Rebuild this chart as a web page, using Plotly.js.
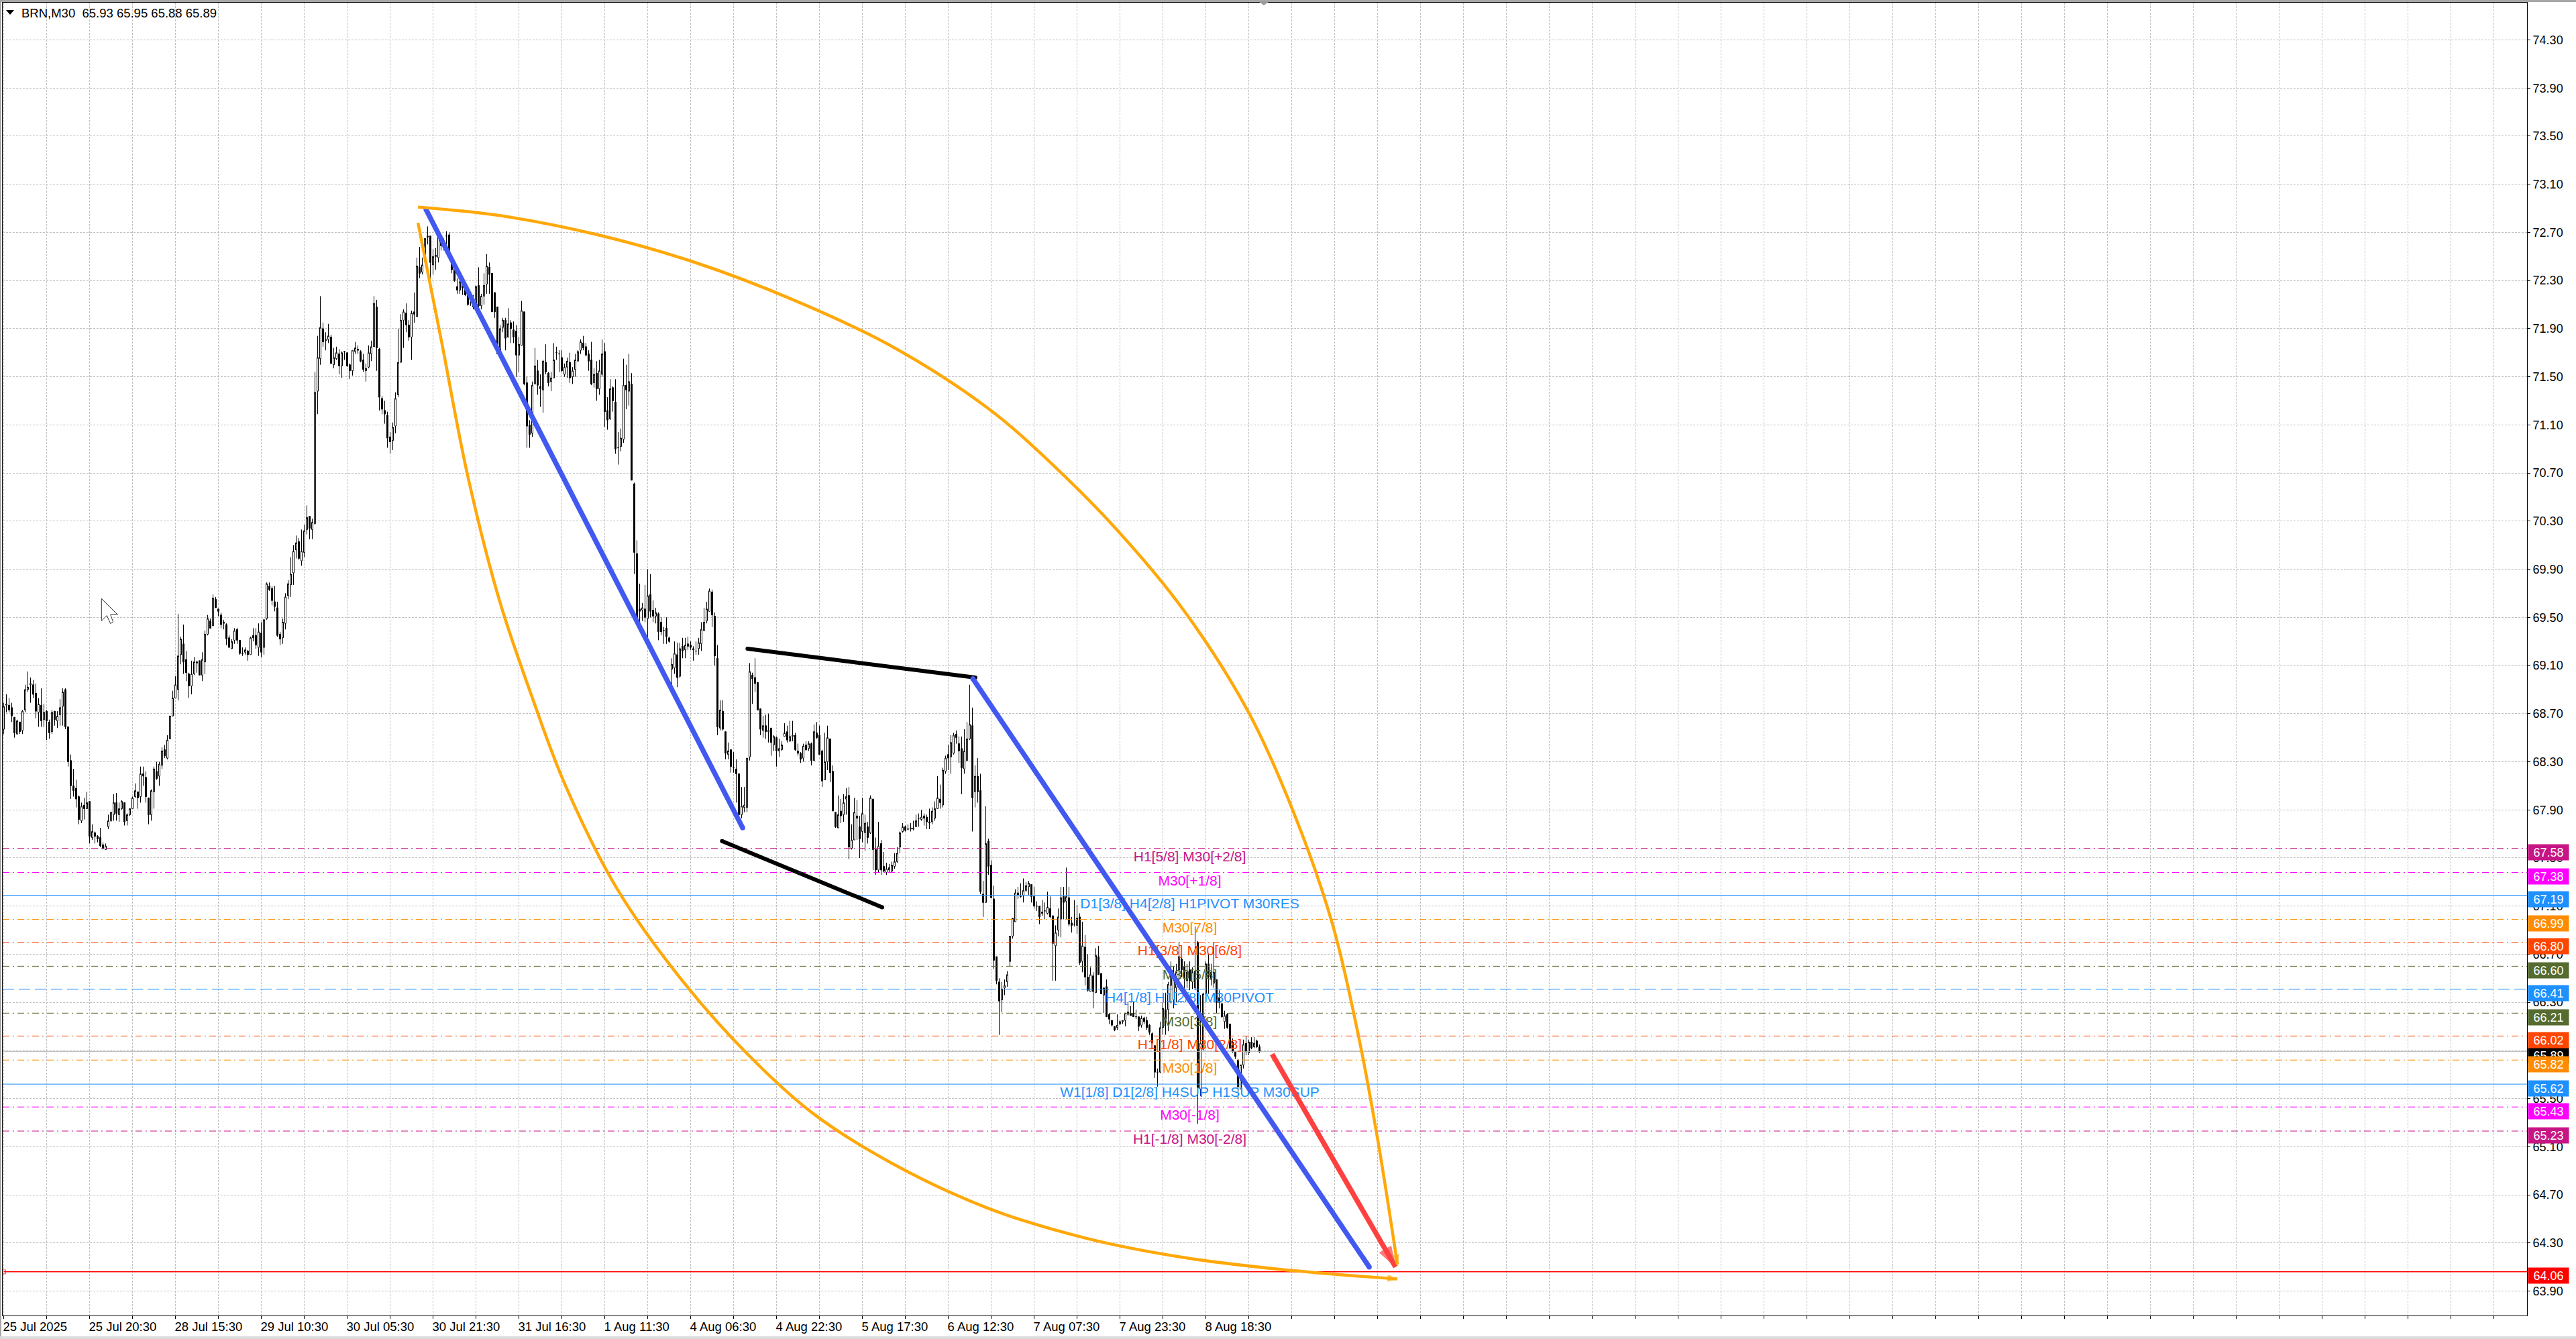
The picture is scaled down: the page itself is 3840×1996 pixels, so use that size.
<!DOCTYPE html>
<html>
<head>
<meta charset="utf-8">
<script src="https://cdn.plot.ly/plotly-3.0.1.min.js"></script>
<style>html,body{margin:0;padding:0;background:#fff}</style>
</head>
<body>
<div id="chart"></div>
<script>
var openPrices = [
68.57,68.77,68.77,68.75,68.67,68.53,68.63,68.56,68.73,68.90,
68.94,68.94,68.87,68.71,68.77,68.65,68.72,68.63,68.55,68.72,
68.64,68.69,68.76,68.90,68.59,68.31,68.10,68.08,68.01,67.81,
67.94,67.91,67.97,67.67,67.71,67.68,67.67,67.61,67.57,67.76,
67.81,67.86,67.96,67.86,67.91,67.96,67.81,67.86,67.91,68.01,
68.05,68.01,68.20,68.17,68.00,67.86,68.05,68.22,68.18,68.27,
68.40,68.33,68.49,68.68,68.83,68.90,69.19,69.28,69.15,69.03,
68.93,69.03,69.12,69.14,69.02,69.13,69.36,69.47,69.43,69.65,
69.57,69.52,69.45,69.44,69.33,69.24,69.31,69.40,69.31,69.20,
69.21,69.22,69.19,69.35,69.35,69.25,69.37,69.25,69.49,69.76,
69.74,69.63,69.58,69.36,69.33,69.45,69.68,69.77,69.87,70.06,
70.13,69.97,70.04,70.23,70.34,70.23,70.28,71.38,71.65,71.90,
71.80,71.81,71.83,71.60,71.65,71.69,71.59,71.71,71.70,71.60,
71.55,71.71,71.73,71.71,71.64,71.55,71.58,71.69,71.75,72.08,
71.73,71.32,71.22,71.18,71.00,70.97,71.09,71.35,71.62,71.97,
72.03,71.93,71.83,72.04,72.00,72.41,72.37,72.46,72.66,72.67,
72.43,72.51,72.49,72.66,72.63,72.67,72.68,72.46,72.40,72.25,
72.22,72.29,72.23,72.19,72.12,72.15,72.09,72.26,72.09,72.17,
72.27,72.41,72.36,72.20,72.08,71.71,71.91,71.97,71.83,71.95,
71.89,71.88,71.68,71.76,72.04,71.45,71.10,71.03,71.44,71.55,
71.42,71.39,71.62,71.53,71.46,71.49,71.70,71.69,71.66,71.52,
71.58,71.62,71.50,71.56,71.63,71.72,71.78,71.75,71.69,71.64,
71.45,71.53,71.40,71.52,71.71,71.22,71.15,71.41,71.29,70.91,
70.92,70.98,71.43,71.38,71.44,70.61,70.03,69.57,69.56,69.57,
69.49,69.69,69.56,69.51,69.53,69.46,69.39,69.41,69.33,69.07,
69.08,69.19,69.01,69.26,69.23,69.28,69.27,69.24,69.22,69.24,
69.28,69.39,69.47,69.55,69.71,69.51,69.16,68.58,68.72,68.55,
68.36,68.40,68.25,68.24,68.20,67.86,67.92,67.92,68.34,69.02,
69.00,68.96,68.74,68.56,68.60,68.55,68.58,68.44,68.50,68.39,
68.40,68.51,68.55,68.47,68.51,68.52,68.39,68.37,68.33,68.44,
68.41,68.45,68.31,68.54,68.52,68.39,68.15,68.30,68.49,68.22,
67.88,67.75,67.89,67.86,67.99,68.02,67.58,67.65,67.85,67.76,
67.72,67.71,67.76,67.71,67.99,67.57,67.40,67.62,67.43,67.38,
67.40,67.39,67.43,67.47,67.59,67.72,67.76,67.74,67.74,67.74,
67.76,67.83,67.82,67.85,67.84,67.80,67.80,67.83,67.91,67.99,
67.94,68.22,68.36,68.34,68.37,68.53,68.45,68.41,68.24,68.31,
68.49,68.60,68.05,68.18,68.06,67.20,67.13,67.64,67.44,67.16,
66.68,66.47,66.32,66.42,66.47,66.64,66.85,66.97,67.21,67.18,
67.19,67.23,67.26,67.28,67.18,67.10,67.10,67.05,67.06,67.04,
67.08,67.02,66.77,66.90,66.99,67.18,67.14,67.17,66.96,66.95,
66.94,67.01,66.64,66.76,66.51,66.39,66.52,66.38,66.68,66.54,
66.36,66.43,66.20,66.15,66.10,66.09,66.12,66.14,66.15,66.20,
66.21,66.21,66.18,66.18,66.11,66.17,66.15,66.11,66.04,65.94,
65.72,65.72,66.09,66.24,66.24,66.44,66.32,66.42,66.57,66.66,
66.60,66.48,66.57,66.47,66.42,66.80,65.58,65.91,66.37,66.62,
66.55,66.46,66.49,66.34,66.29,66.14,66.20,66.12,65.97,65.89,
65.82,65.58,65.78,65.96,65.88,65.97,65.93,65.98,65.93];

var highPrices = [
68.79,68.86,68.83,68.79,68.67,68.65,68.63,68.73,68.94,69.05,
69.00,68.98,68.95,68.83,68.91,68.78,68.73,68.65,68.73,68.72,
68.72,68.82,68.91,68.91,68.59,68.36,68.24,68.15,68.02,67.96,
68.00,68.05,67.97,67.78,67.72,67.69,67.75,67.63,67.62,67.86,
67.88,68.03,68.04,67.96,67.98,67.96,67.87,67.91,68.01,68.12,
68.05,68.26,68.26,68.22,68.00,68.07,68.26,68.30,68.30,68.42,
68.44,68.52,68.68,68.89,69.01,69.53,69.34,69.44,69.22,69.04,
69.14,69.17,69.14,69.14,69.21,69.39,69.52,69.49,69.69,69.67,
69.57,69.54,69.48,69.45,69.35,69.32,69.41,69.41,69.31,69.25,
69.25,69.23,69.34,69.41,69.41,69.45,69.46,69.49,69.79,69.79,
69.76,69.76,69.63,69.38,69.49,69.70,69.81,70.00,70.10,70.18,
70.16,70.23,70.27,70.43,70.34,70.32,71.54,71.84,72.17,71.95,
71.87,71.94,71.85,71.74,71.75,71.73,71.71,71.71,71.70,71.61,
71.72,71.79,71.76,71.72,71.69,71.61,71.76,71.80,72.17,72.14,
71.74,71.34,71.30,71.21,71.04,71.12,71.37,71.90,72.02,72.06,
72.11,71.97,72.05,72.20,72.49,72.58,72.49,72.65,72.75,72.67,
72.56,72.57,72.69,72.67,72.65,72.71,72.70,72.51,72.40,72.32,
72.32,72.32,72.25,72.20,72.16,72.18,72.26,72.41,72.19,72.36,
72.52,72.45,72.36,72.20,72.08,71.93,71.99,71.99,72.07,71.97,
71.96,71.93,71.83,72.13,72.04,71.50,71.14,71.46,71.74,71.64,
71.52,71.64,71.77,71.54,71.54,71.78,71.75,71.72,71.72,71.61,
71.66,71.70,71.58,71.69,71.72,71.81,71.84,71.78,71.72,71.79,
71.57,71.63,71.64,71.81,71.78,71.33,71.48,71.42,71.48,71.04,
71.07,71.65,71.60,71.69,71.53,70.62,70.14,69.78,69.62,69.77,
69.90,69.86,69.64,69.58,69.54,69.50,69.42,69.50,69.34,69.16,
69.30,69.29,69.29,69.33,69.33,69.34,69.30,69.26,69.30,69.33,
69.46,69.58,69.63,69.74,69.73,69.54,69.27,68.81,68.81,68.55,
68.46,68.40,68.38,68.32,68.20,68.09,68.09,68.33,69.12,69.04,
69.16,68.96,68.74,68.68,68.69,68.70,68.58,68.52,68.51,68.49,
68.47,68.62,68.60,68.64,68.64,68.54,68.45,68.38,68.45,68.47,
68.47,68.46,68.61,68.63,68.60,68.40,68.54,68.60,68.49,68.27,
67.88,68.02,67.99,68.03,68.08,68.09,67.78,68.00,67.98,67.85,
68.00,67.86,67.80,68.02,67.99,67.67,67.80,67.65,67.55,67.46,
67.45,67.47,67.54,67.59,67.72,67.79,67.77,67.78,67.79,67.81,
67.86,67.87,67.90,67.87,67.86,67.91,67.92,67.97,68.18,68.11,
68.25,68.35,68.44,68.52,68.54,68.56,68.51,68.51,68.57,68.63,
68.94,68.75,68.27,68.33,68.20,67.31,67.93,67.66,67.48,67.27,
66.68,66.50,66.47,66.49,66.56,66.85,67.00,67.24,67.26,67.29,
67.33,67.30,67.31,67.28,67.26,67.14,67.10,67.15,67.13,67.22,
67.18,67.02,66.94,67.08,67.26,67.26,67.42,67.26,67.01,67.15,
67.11,67.04,66.97,66.86,66.70,66.59,66.55,66.75,66.77,66.54,
66.42,66.49,66.21,66.15,66.10,66.20,66.15,66.15,66.21,66.30,
66.27,66.30,66.24,66.18,66.19,66.18,66.18,66.12,66.05,65.94,
65.75,66.14,66.30,66.38,66.47,66.64,66.60,66.62,66.80,66.70,
66.64,66.62,66.64,66.59,66.93,66.81,66.36,66.38,66.64,66.70,
66.62,66.80,66.49,66.40,66.29,66.23,66.21,66.12,66.00,65.89,
65.83,65.78,65.99,66.02,65.99,66.01,66.01,65.99,65.95];

var lowPrices = [
68.53,68.71,68.71,68.63,68.50,68.53,68.53,68.53,68.71,68.88,
68.79,68.83,68.66,68.59,68.59,68.59,68.48,68.49,68.53,68.60,
68.58,68.60,68.60,68.57,68.26,67.99,68.01,67.92,67.78,67.79,
67.82,67.91,67.62,67.65,67.62,67.63,67.59,67.57,67.57,67.74,
67.80,67.81,67.81,67.80,67.90,67.77,67.77,67.85,67.91,68.00,
67.91,67.96,68.10,67.96,67.78,67.81,67.91,68.15,68.10,68.24,
68.33,68.32,68.49,68.68,68.83,68.81,69.11,69.03,68.97,68.83,
68.86,69.02,69.04,69.02,68.97,69.03,69.35,69.41,69.43,69.58,
69.51,69.41,69.40,69.27,69.25,69.24,69.28,69.28,69.19,69.18,
69.19,69.14,69.19,69.30,69.24,69.18,69.17,69.19,69.48,69.72,
69.60,69.55,69.34,69.27,69.28,69.40,69.65,69.67,69.77,69.99,
69.98,69.93,70.00,70.19,70.15,70.15,70.27,71.19,71.60,71.75,
71.72,71.78,71.61,71.57,71.64,71.52,71.49,71.64,71.58,71.48,
71.51,71.69,71.69,71.62,71.54,71.46,71.57,71.63,71.75,71.55,
71.22,71.19,71.11,70.91,70.86,70.89,71.03,71.33,71.62,71.74,
71.87,71.80,71.64,71.95,72.00,72.32,72.35,72.45,72.60,72.25,
72.35,72.39,72.45,72.55,72.55,72.59,72.53,72.36,72.29,72.19,
72.19,72.18,72.17,72.09,72.09,72.06,72.09,72.06,72.06,72.10,
72.19,72.19,72.04,71.99,71.69,71.70,71.87,71.72,71.83,71.78,
71.78,71.50,71.54,71.76,71.43,70.91,70.91,71.00,71.44,71.35,
71.25,71.20,71.52,71.42,71.38,71.49,71.64,71.54,71.54,71.50,
71.49,71.45,71.44,71.50,71.63,71.69,71.72,71.67,71.55,71.43,
71.41,71.30,71.35,71.50,71.08,71.06,71.14,71.21,70.86,70.77,
70.88,70.95,71.23,71.26,70.64,69.86,69.49,69.46,69.47,69.46,
69.34,69.50,69.46,69.45,69.31,69.35,69.28,69.28,69.29,68.94,
69.03,68.92,69.00,69.16,69.16,69.23,69.23,69.14,69.19,69.19,
69.22,69.39,69.45,69.55,69.42,69.10,68.52,68.56,68.56,68.32,
68.32,68.21,68.21,67.96,67.83,67.83,67.88,67.88,68.31,68.78,
68.88,68.73,68.52,68.50,68.49,68.46,68.35,68.39,68.26,68.34,
68.39,68.51,68.46,68.47,68.47,68.39,68.35,68.29,68.30,68.39,
68.39,68.27,68.31,68.49,68.36,68.09,68.15,68.23,68.13,67.89,
67.75,67.75,67.79,67.80,67.86,67.49,67.57,67.65,67.65,67.50,
67.63,67.56,67.62,67.70,67.40,67.36,67.38,67.36,67.38,67.36,
67.38,67.38,67.41,67.46,67.54,67.71,67.72,67.73,67.72,67.73,
67.76,67.76,67.81,67.77,67.74,67.74,67.78,67.81,67.91,67.91,
67.92,68.20,68.23,68.20,68.36,68.45,68.29,68.03,68.20,68.31,
68.48,67.72,67.92,67.96,67.20,67.01,67.13,67.36,67.17,66.58,
66.45,66.03,66.22,66.36,66.43,66.60,66.83,66.97,67.16,67.17,
67.13,67.22,67.19,67.13,67.08,67.06,66.95,67.02,66.99,67.03,
67.00,66.48,66.48,66.85,66.84,66.99,66.99,66.93,66.88,66.93,
66.87,66.61,66.55,66.44,66.39,66.39,66.25,66.38,66.53,66.37,
66.21,66.18,66.12,66.10,66.06,66.07,66.11,66.12,66.10,66.19,
66.19,66.18,66.16,66.06,66.09,66.12,66.07,66.03,65.93,65.67,
65.60,65.71,66.03,66.03,66.06,66.29,66.25,66.30,66.43,66.51,
66.36,66.42,66.40,66.41,66.40,65.29,65.52,65.90,66.32,66.37,
66.44,66.42,66.21,66.25,66.17,66.08,66.08,65.91,65.88,65.83,
65.50,65.58,65.75,65.86,65.86,65.91,65.92,65.92,65.88];

var closePrices = [
68.76,68.78,68.73,68.68,68.54,68.64,68.55,68.72,68.90,68.92,
68.95,68.86,68.72,68.78,68.64,68.71,68.64,68.54,68.71,68.65,
68.68,68.75,68.88,68.59,68.30,68.10,68.06,67.99,67.82,67.93,
67.91,67.96,67.68,67.72,67.68,67.66,67.60,67.58,67.60,67.81,
67.88,67.96,67.87,67.91,67.97,67.80,67.86,67.91,68.00,68.06,
68.00,68.20,68.18,68.01,67.86,68.06,68.24,68.16,68.28,68.39,
68.35,68.48,68.68,68.83,68.94,69.18,69.32,69.13,69.04,68.93,
69.03,69.13,69.13,69.02,69.15,69.36,69.49,69.41,69.66,69.58,
69.55,69.44,69.46,69.32,69.25,69.30,69.39,69.31,69.20,69.20,
69.23,69.19,69.33,69.33,69.27,69.38,69.21,69.48,69.78,69.73,
69.64,69.59,69.35,69.32,69.46,69.67,69.78,69.86,70.05,70.12,
69.99,70.05,70.22,70.33,70.24,70.29,71.37,71.66,71.91,71.79,
71.81,71.84,71.61,71.66,71.70,71.59,71.70,71.71,71.59,71.55,
71.72,71.74,71.72,71.63,71.56,71.57,71.70,71.75,72.11,71.74,
71.33,71.23,71.19,70.99,70.96,71.08,71.32,71.62,71.97,72.04,
71.93,71.83,72.03,72.02,72.42,72.36,72.43,72.65,72.67,72.45,
72.50,72.50,72.66,72.59,72.57,72.67,72.55,72.39,72.30,72.22,
72.29,72.24,72.18,72.10,72.12,72.08,72.25,72.09,72.17,72.26,
72.42,72.35,72.04,72.04,71.69,71.90,71.97,71.82,71.94,71.90,
71.83,71.68,71.77,72.05,71.44,71.09,71.02,71.43,71.59,71.43,
71.40,71.63,71.54,71.45,71.49,71.64,71.70,71.69,71.55,71.58,
71.63,71.49,71.55,71.64,71.71,71.79,71.74,71.68,71.63,71.44,
71.52,71.40,71.55,71.69,71.21,71.14,71.40,71.30,70.90,70.91,
70.99,71.43,71.39,71.46,70.64,70.04,69.50,69.55,69.58,69.50,
69.68,69.55,69.51,69.54,69.38,69.38,69.39,69.34,69.30,69.11,
69.20,69.00,69.24,69.22,69.27,69.26,69.25,69.23,69.22,69.29,
69.40,69.46,69.57,69.72,69.52,69.18,68.59,68.73,68.57,68.37,
68.39,68.26,68.25,68.20,67.86,67.93,67.94,68.33,69.05,68.99,
68.95,68.73,68.57,68.60,68.55,68.56,68.46,68.51,68.39,68.41,
68.44,68.54,68.48,68.51,68.52,68.40,68.37,68.32,68.43,68.40,
68.45,68.31,68.55,68.50,68.36,68.14,68.30,68.50,68.21,67.89,
67.76,67.86,67.85,67.96,68.01,67.59,67.65,67.88,67.83,67.66,
67.87,67.79,67.67,68.00,67.57,67.40,67.60,67.40,67.39,67.41,
67.42,67.44,67.47,67.54,67.71,67.76,67.73,67.74,67.75,67.75,
67.81,67.83,67.84,67.83,67.80,67.79,67.89,67.91,68.00,67.96,
68.23,68.33,68.33,68.46,68.52,68.50,68.39,68.25,68.39,68.49,
68.61,68.00,68.18,68.05,67.22,67.13,67.62,67.43,67.17,66.65,
66.48,66.31,66.41,66.44,66.53,66.85,67.00,67.21,67.19,67.18,
67.23,67.27,67.29,67.18,67.10,67.10,67.01,67.04,67.06,67.09,
67.01,66.79,66.88,67.01,67.17,67.13,67.18,66.95,66.94,66.95,
67.00,66.63,66.77,66.51,66.40,66.53,66.39,66.69,66.53,66.37,
66.42,66.18,66.16,66.11,66.07,66.11,66.14,66.15,66.21,66.22,
66.19,66.18,66.18,66.10,66.17,66.14,66.09,66.05,65.96,65.72,
65.72,66.09,66.25,66.16,66.45,66.54,66.53,66.55,66.68,66.57,
66.50,66.55,66.48,66.55,66.56,65.59,65.96,66.37,66.62,66.51,
66.49,66.55,66.30,66.30,66.18,66.19,66.09,65.92,65.89,65.85,
65.60,65.78,65.95,65.89,65.97,65.92,65.96,65.93,65.89];

var timeLabels = ['25 Jul 2025','25 Jul 20:30','28 Jul 15:30','29 Jul 10:30','30 Jul 05:30','30 Jul 21:30','31 Jul 16:30','1 Aug 11:30','4 Aug 06:30','4 Aug 22:30','5 Aug 17:30','6 Aug 12:30','7 Aug 07:30','7 Aug 23:30','8 Aug 18:30'];
var priceTicks = [63.9,64.3,64.7,65.1,65.5,65.9,66.3,66.7,67.1,67.5,67.9,68.3,68.7,69.1,69.5,69.9,70.3,70.7,71.1,71.5,71.9,72.3,72.7,73.1,73.5,73.9,74.3];

var levelPrices = [67.58,67.38,67.19,66.99,66.80,66.60,66.41,66.21,66.02,65.82,65.62,65.43,65.23];
var levelNames = ['H1[5/8] M30[+2/8]','M30[+1/8]','D1[3/8] H4[2/8] H1PIVOT M30RES','M30[7/8]','H1[3/8] M30[6/8]','M30[5/8]','H4[1/8] H1[2/8] M30PIVOT','M30[3/8]','H1[1/8] M30[2/8]','M30[1/8]','W1[1/8] D1[2/8] H4SUP H1SUP M30SUP','M30[-1/8]','H1[-1/8] M30[-2/8]'];
var levelColors = ['#C71585','#FF00FF','#1E90FF','#FF8C00','#FF4500','#556B2F','#1E90FF','#556B2F','#FF4500','#FF8C00','#1E90FF','#FF00FF','#C71585'];
var levelDash = ['dd','dd','solid','dd','dd','dd','dash','dd','dd','dd','solid','dd','dd'];

var lastPrice = 65.89;
var targetPrice = 64.06;

// trend lines, [bar, price]
var blueOneX = [157.4,275.4], blueOneY = [72.89,67.75];
var blueTwoX = [361.2,508.9], blueTwoY = [68.99,64.10];
var blackOneX = [277.2,362.1], blackOneY = [69.24,69.00];
var blackTwoX = [267.7,327.4], blackTwoY = [67.64,67.09];
var redX = [472.7,518.7], redY = [65.87,64.10];

// the two orange arcs
var arcTopX = [154.4,184.9,221.4,257.7,294.2,330.4,366.7,390.9,415.2,439.4,463.7,480.7,495.2,504.9,512.2,519.4];
var arcTopY = [72.91,72.84,72.68,72.45,72.14,71.76,71.24,70.77,70.22,69.57,68.72,67.88,66.95,66.02,65.14,64.12];
var arcLowX = [154.4,163.2,172.9,184.9,197.2,209.2,228.7,252.9,277.2,301.4,330.4,366.7,403.2,439.4,475.9,519.4];
var arcLowY = [72.78,71.79,70.68,69.63,68.82,68.11,67.24,66.48,65.87,65.38,64.97,64.59,64.34,64.18,64.08,64.00];

var W = 3840, H = 1996;
var plotL = 4, plotR = 3767, plotT = 4, plotB = 1961;
var xMin = -0.375, xMax = 940.375, yMax = 74.6095, yMin = 63.6967;

// page pixels to paper fractions, only for the window furniture
function px(x) { return (x - plotL) / (plotR - plotL); }
function py(y) { return 1 - (y - plotT) / (plotB - plotT); }
function poly(pts) {
  return 'M' + pts.map(function (p) { return px(p[0]) + ',' + py(p[1]); }).join('L') + 'Z';
}

var bars = openPrices.map(function (_, i) { return i; });
var dashStyles = {dd: '10px,5px,2px,5px', dash: '17px,7px', solid: 'solid'};

var data = [{
  type: 'candlestick', x: bars, open: openPrices, high: highPrices, low: lowPrices, close: closePrices,
  increasing: {line: {color: '#000', width: 1}, fillcolor: '#fff'},
  decreasing: {line: {color: '#000', width: 1}, fillcolor: '#000'},
  whiskerwidth: 0, showlegend: false, hoverinfo: 'skip'
}];

data.push({x: [xMin, xMax], y: [lastPrice, lastPrice], mode: 'lines', line: {color: '#b4b4b4', width: 1}, showlegend: false});
data.push({
  x: [xMin + 0.4, xMax], y: [targetPrice, targetPrice], mode: 'lines+markers',
  line: {color: '#ff0000', width: 1.5},
  marker: {symbol: 'square-open', size: [6, 0], color: '#ff0000', line: {width: 1, color: '#ff0000'}},
  showlegend: false
});

levelPrices.forEach(function (p, i) {
  data.push({x: [xMin, xMax], y: [p, p], mode: 'lines',
    line: {color: levelColors[i], width: 1, dash: dashStyles[levelDash[i]]}, showlegend: false});
  // invisible marker only pushes the text a little further below its line
  data.push({x: [442], y: [p], mode: 'markers+text', text: [levelNames[i]], textposition: 'bottom center',
    marker: {size: 4, opacity: 0},
    textfont: {family: 'Liberation Sans', size: 21, color: levelColors[i]}, showlegend: false});
});

function roundLine(x, y, color, width) {
  return {x: x, y: y, mode: 'lines+markers', line: {color: color, width: width},
    marker: {symbol: 'circle', size: width, color: color, line: {width: 0}}, showlegend: false};
}
data.push(roundLine(blackOneX, blackOneY, '#000', 6));
data.push(roundLine(blackTwoX, blackTwoY, '#000', 6));
data.push(roundLine(blueOneX, blueOneY, '#4159f0', 7.5));
data.push(roundLine(blueTwoX, blueTwoY, '#4159f0', 7.5));

function arrowLine(x, y, color, width, spline, head) {
  return {x: x, y: y, mode: 'lines+markers',
    line: {color: color, width: width, shape: spline ? 'spline' : 'linear', smoothing: 1, simplify: false},
    marker: {symbol: 'arrow', angleref: 'previous', color: color, line: {color: color, width: 1},
      size: x.map(function (_, i) { return i === x.length - 1 ? head : 0; })},
    showlegend: false};
}
data.push(arrowLine(redX, redY, '#ff4040', 7.5, false, 32));
data.push(arrowLine(arcTopX, arcTopY, '#ffa80a', 4.5, true, 15));
data.push(arrowLine(arcLowX, arcLowY, '#ffa80a', 4.5, true, 15));

var annotations = [];
function tag(p, text, color) {
  annotations.push({xref: 'paper', x: 1, xanchor: 'left', xshift: 1, yref: 'y', y: p, yanchor: 'middle', yshift: -6,
    text: text, showarrow: false, width: 60, height: 23, bgcolor: color, borderpad: 0, align: 'center',
    font: {family: 'Liberation Sans', size: 18, color: '#fff'}});
}
tag(lastPrice, lastPrice.toFixed(2), '#000');
levelPrices.forEach(function (p, i) { tag(p, p.toFixed(2), levelColors[i]); });
tag(targetPrice, targetPrice.toFixed(2), '#ff0000');
annotations.push({xref: 'paper', yref: 'paper', x: px(30), y: py(19), xanchor: 'left', yanchor: 'middle', showarrow: false,
  text: 'BRN,M30&nbsp;&nbsp;65.93 65.95 65.88 65.89', font: {family: 'Liberation Sans', size: 18.5, color: '#000'}});

var gridBars = [], gridText = [];
for (var g = 0; g <= 928; g += 16) {
  gridBars.push(g);
  gridText.push(g % 32 === 0 && timeLabels[g / 32] ? timeLabels[g / 32] : '');
}

var layout = {
  width: W, height: H,
  margin: {l: plotL, r: W - plotR, t: plotT, b: H - plotB, pad: 0},
  paper_bgcolor: '#fff', plot_bgcolor: '#fff',
  showlegend: false,
  xaxis: {
    type: 'linear', range: [xMin, xMax], rangeslider: {visible: false},
    tickmode: 'array', tickvals: gridBars, ticktext: gridText, tickangle: 0,
    ticks: 'outside', ticklen: 4, tickcolor: '#000', ticklabelposition: 'outside right', ticklabeloverflow: 'allow', ticklabelshift: -2,
    tickfont: {family: 'Liberation Sans', size: 18.5, color: '#000'},
    showgrid: true, gridcolor: '#c0c0c0', griddash: '3px,2px', gridwidth: 1, zeroline: false,
    showline: true, linecolor: '#000', linewidth: 1, mirror: true
  },
  yaxis: {
    range: [yMin, yMax], side: 'right',
    tickmode: 'array', tickvals: priceTicks, ticktext: priceTicks.map(function (v) { return v.toFixed(2); }),
    ticks: 'outside', ticklen: 4, tickcolor: '#000',
    tickfont: {family: 'Liberation Sans', size: 18, color: '#000'},
    showgrid: true, gridcolor: '#c0c0c0', griddash: '3px,2px', gridwidth: 1, zeroline: false,
    showline: true, linecolor: '#000', linewidth: 1, mirror: true
  },
  annotations: annotations,
  shapes: [
    {type: 'rect', xref: 'paper', yref: 'paper', x0: px(0), x1: px(W), y0: py(0), y1: py(3), fillcolor: '#a6a6a6', line: {width: 0}},
    {type: 'rect', xref: 'paper', yref: 'paper', x0: px(0), x1: px(2), y0: py(0), y1: py(H), fillcolor: '#a6a6a6', line: {width: 0}},
    {type: 'rect', xref: 'paper', yref: 'paper', x0: px(0), x1: px(W), y0: py(1992), y1: py(H), fillcolor: '#dcdcdc', line: {width: 0}},
    {type: 'path', xref: 'paper', yref: 'paper', path: poly([[9,15],[21,15],[15,22]]), fillcolor: '#000', line: {width: 0}},
    {type: 'path', xref: 'paper', yref: 'paper', path: poly([[1876,2],[1892,2],[1884,8]]), fillcolor: '#9a9a9a', line: {width: 0}},
    {type: 'path', xref: 'paper', yref: 'paper', fillcolor: '#fff', line: {color: '#333', width: 1},
      path: poly([[151.3,892.3],[151.3,925.4],[159.3,917.6],[164.7,929.5],[168.7,927.1],[164.7,916.3],[175.3,916.3]])}
  ]
};

Plotly.newPlot('chart', data, layout, {displayModeBar: false});
</script>
</body>
</html>
